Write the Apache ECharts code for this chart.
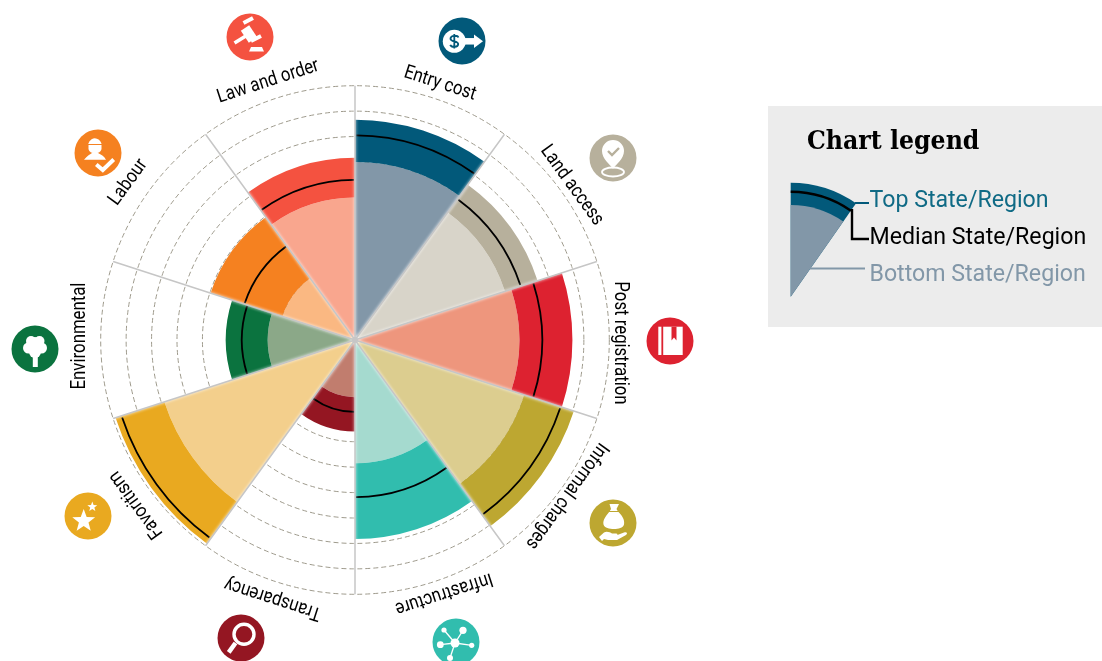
<!DOCTYPE html>
<html><head><meta charset="utf-8">
<style>html,body{margin:0;padding:0;background:#fff}#c{width:1102px;height:661px}</style>
<script src="https://cdn.jsdelivr.net/npm/echarts@6/dist/echarts.min.js"></script>
</head><body><div id="c"></div>
<script>
const categories = ['Entry cost','Land access','Post registration','Informal charges','Infrastructure','Transparency','Favoritism','Environmental','Labour','Law and order'];
const topValues    = [8.66,7.55,8.55,9.05,7.83,3.60,9.90,5.08,5.97,7.17];
const medianValues = [8.05,6.85,7.36,8.50,6.18,2.83,9.65,4.45,4.57,6.30];
const bottomValues = [7.00,6.20,6.46,7.00,4.85,2.25,7.88,3.43,3.00,5.60];
const topColors    = ['#02597a','#b7b09c','#dd2230','#bda731','#31bdae','#941622','#e9a920','#0b733f','#f58120','#f45240'];
const bottomColors = ['#8297a8','#d8d4c9','#ee967d','#dccd8f','#a5dacf','#c17d6e','#f3cf8c','#8ba888','#fab882','#f9a68e'];
const legendTitle = 'Chart legend';
const legendLabels = ['Top State/Region','Median State/Region','Bottom State/Region'];

const LABEL_R = 10.68, TXT = 'Roboto, sans-serif';
const labelNudge = [[1,2],[-3,5],[-7,3],[-8,-4],[5,-5],[2,0],[1,5],[-3,-4],[-7,2],[-3,0]];

// icon glyph helpers, local coordinates around the icon centre
const circ = (x,y,r)=>`M${x-r} ${y}a${r} ${r} 0 1 0 ${2*r} 0a${r} ${r} 0 1 0 ${-2*r} 0Z`;
const bar = (x1,y1,x2,y2,w)=>{const a=Math.atan2(y2-y1,x2-x1),n=w/2,dx=-Math.sin(a)*n,dy=Math.cos(a)*n;
  return `M${x1+dx} ${y1+dy}L${x2+dx} ${y2+dy}L${x2-dx} ${y2-dy}L${x1-dx} ${y1-dy}Z`;};
const star = (x,y,R)=>{let s='';for(let i=0;i<10;i++){const r=i%2?R*0.42:R,a=-Math.PI/2+i*Math.PI/5;s+=(i?'L':'M')+(x+r*Math.cos(a))+' '+(y+r*Math.sin(a));}return s+'Z';};
const W='#fff';
const icons = [
 {x:462,y:41,c:0,p:[[circ(-7.7,0.3,11.5),W],[bar(-1,0.3,14,0.3,6.5),W],['M12 -6.5L21 0.3L12 7Z',W],
   ['M-3.6 -3.5C-4.5 -6 -11.5 -6 -11.5 -2.3C-11.5 1.2 -3.8 -0.6 -3.8 3C-3.8 6.6 -10.6 6.6 -11.8 3.8M-7.7 -7V7.6',null,topColors[0],1.8]]},
 {x:613,y:158,c:1,p:[['M0 11C-3 6 -11 1 -11 -7A11 11 0 1 1 11 -7C11 1 3 6 0 11Z',W],
   ['M-5 -7L-1 -3L6 -10',null,topColors[1],2.4],['M-11 14a11 4.5 0 1 0 22 0a11 4.5 0 1 0 -22 0Z',null,W,1.8]]},
 {x:670,y:341,c:2,p:[['M-11.7 -14.3H-8.6V14H-11.7Z',W],['M-6.8 -14.3H12.7V14H-6.8Z',W],['M1.5 -14.3H6.5V-0.5L4 -3.5L1.5 -0.5Z',topColors[2]]]},
 {x:613,y:523,c:3,p:[['M-3.5 -19L6 -19L3.5 -14L5 -11.5C9 -8 12 -3 11 1.5C10 5 5.5 6 1 6C-3.5 6 -8.5 5 -9.5 1.5C-10.5 -3 -6.5 -8 -3.5 -11.5L-2 -14Z',W],
   [bar(-4,-11.5,6,-11.5,1),topColors[3]],
   ['M-14 14L-9 9.5C-6 8 -3 9.5 -1 10.5L3 10.5C5 10.5 5 12.5 3 12.5L11 9.5C14 8.5 15 10.5 13 12L4 17L-5 17L-9 16L-11 18Z',W]]},
 {x:456,y:642,c:4,p:[[circ(-1,1,4.5),W],[circ(-12,-12,2.6),W],[circ(7,-11.7,3.6),W],[circ(15.7,3.3,2.6),W],[circ(-15.7,2.7,3.4),W],[circ(-6,16,3),W],
   [bar(-1,1,-12,-12,1.3),W],[bar(-1,1,7,-11.7,1.3),W],[bar(-1,1,15.7,3.3,1.3),W],[bar(-1,1,-15.7,2.7,1.3),W],[bar(-1,1,-6,16,1.3),W]]},
 {x:241,y:638,c:5,p:[[circ(3,-3.7,10),null,W,3.4],[bar(-5.5,5,-12.3,14.3,4.5),W]]},
 {x:88,y:516,c:6,p:[[star(-4.3,5,12),W],[star(4.3,-9.2,5.2),W]]},
 {x:35,y:349,c:7,p:[[circ(0,-3,9),W],[circ(-6.5,-1,5.5),W],[circ(6.5,-1,5.5),W],[circ(-4,-8,5),W],[circ(4.5,-8,5),W],[circ(0,3,6),W],['M-2.2 4H2.8V18H-2.2Z',W]]},
 {x:98,y:153,c:8,p:[['M-9.8 -9A7 8 0 0 1 3.6 -9Z',W],['M-9.5 -8H3.5V-4C3 -1 -0.5 0.5 -3 0.5C-5.5 0.5 -9 -1 -9.5 -4Z',W],
   ['M-14 6.8C-11 3 -7.5 1 -6 0L0 0C3 1.5 6 3 8 6.8Z',W],['M-1.7 11.5L4.8 17L15.7 6.5',null,W,4]]},
 {x:250,y:37,c:9,p:[[bar(-15.5,6,-1,-3,3.6),W],[bar(-5,-9,3,3,10),W],[bar(-6.5,-14,3,-19,4),W],[bar(1,4,11,-1,4),W],['M1 10H12L14 14.5H-1Z',W]]}
];

const deg = Math.PI/180;
const legendGraphics = [
  {type:'rect',shape:{x:768,y:106,width:334,height:221},style:{fill:'#ececec'}},
  {type:'text',x:807,y:142,scaleX:0.91,style:{text:legendTitle,font:'bold 26px "DejaVu Serif", serif',fill:'#000',textAlign:'left',textVerticalAlign:'middle'}},
  {type:'sector',shape:{cx:790.7,cy:296.7,r:114,r0:0,startAngle:-90*deg,endAngle:-55*deg},style:{fill:topColors[0]}},
  {type:'sector',shape:{cx:790.7,cy:296.7,r:91.7,r0:0,startAngle:-90*deg,endAngle:-55*deg},style:{fill:bottomColors[0]}},
  {type:'arc',shape:{cx:790.7,cy:296.7,r:105,startAngle:-90*deg,endAngle:-55*deg},style:{stroke:'#000',lineWidth:2.4,fill:'none'}},
  {type:'polyline',shape:{points:[[855,203],[869,203]]},style:{stroke:topColors[0],lineWidth:2}},
  {type:'polyline',shape:{points:[[852,209],[852,239],[869,239]]},style:{stroke:'#000',lineWidth:2.4,fill:'none'}},
  {type:'polyline',shape:{points:[[810,268.5],[865,268.5]]},style:{stroke:bottomColors[0],lineWidth:2}}
].concat(legendLabels.map((t,i)=>({type:'text',x:869.5,y:[201,238,275][i],scaleX:0.985,
  style:{text:t,font:'400 23.5px '+TXT,fill:['#0f6a85','#000','#8297a8'][i],textAlign:'left',textVerticalAlign:'middle'}})));

const chart = echarts.init(document.getElementById('c'),null,{renderer:'canvas'});
chart.setOption({
  animation:false,
  polar:{center:[355,340],radius:254.3},
  angleAxis:{type:'category',data:categories,startAngle:90,clockwise:true,boundaryGap:true,z:5,
    axisLine:{show:false},axisTick:{show:false},axisLabel:{show:false},
    splitLine:{show:true,lineStyle:{color:'#c6c6c6',width:1.5,shadowColor:'#fff',shadowBlur:3}}},
  radiusAxis:{type:'value',min:0,max:10,interval:1,z:1,
    axisLine:{show:false},axisTick:{show:false},axisLabel:{show:false},
    splitLine:{show:true,lineStyle:{color:'#9e9a8c',width:1,type:[5,3]}}},
  graphic:{elements:legendGraphics.concat([{type:'circle',shape:{cx:355,cy:340,r:3},style:{fill:'#c6c6c6'},z:20}])},
  series:[
    {name:'Bottom State/Region',type:'bar',coordinateSystem:'polar',stack:'range',data:bottomValues,barWidth:'100%',z:2,silent:true,
      itemStyle:{color:p=>bottomColors[p.dataIndex]}},
    {name:'Top State/Region',type:'bar',coordinateSystem:'polar',stack:'range',data:topValues.map((v,i)=>+(v-bottomValues[i]).toFixed(2)),barWidth:'100%',z:2,silent:true,
      itemStyle:{color:p=>topColors[p.dataIndex]}},
    {name:'Median State/Region',type:'custom',coordinateSystem:'polar',z:4,silent:true,
      encode:{radius:0,angle:1},
      data:medianValues.map((v,i)=>[v,i]),
      renderItem:(params,api)=>{
        const p=api.coord([api.value(0),api.value(1)]),cs=params.coordSys;
        const dx=p[0]-cs.cx,dy=p[1]-cs.cy,r=Math.hypot(dx,dy),a=Math.atan2(dy,dx);
        return {type:'arc',shape:{cx:cs.cx,cy:cs.cy,r,startAngle:a-17.6*deg,endAngle:a+17.6*deg},style:{stroke:'#000',lineWidth:1.8,fill:'none'}};
      }},
    {name:'labels',type:'custom',coordinateSystem:'polar',z:6,silent:true,
      encode:{radius:0,angle:1},
      data:categories.map((c,i)=>[LABEL_R,i]),
      renderItem:(params,api)=>{
        const i=api.value(1),p=api.coord([api.value(0),i]),n=labelNudge[i];
        return {type:'text',x:p[0]+n[0],y:p[1]+n[1],rotation:-(i+0.5)*36*deg,scaleX:0.86,
          style:{text:categories[i],font:'400 19.5px '+TXT,fill:'#000',align:'center',verticalAlign:'middle'}};
      }},
    {name:'icons',type:'custom',coordinateSystem:'none',z:7,silent:true,
      data:icons.map((ic,i)=>[i]),
      renderItem:(params,api)=>{
        const ic=icons[api.value(0)];
        return {type:'group',x:ic.x,y:ic.y,children:[{type:'circle',shape:{cx:0,cy:0,r:23.5},style:{fill:topColors[ic.c]}}].concat(
          ic.p.map(([d,fill,stroke,lw])=>({type:'path',shape:{pathData:d},
            style:{fill:fill||'none',stroke:stroke||'none',lineWidth:lw||0}})))};
      }}
  ]
});
</script></body></html>
